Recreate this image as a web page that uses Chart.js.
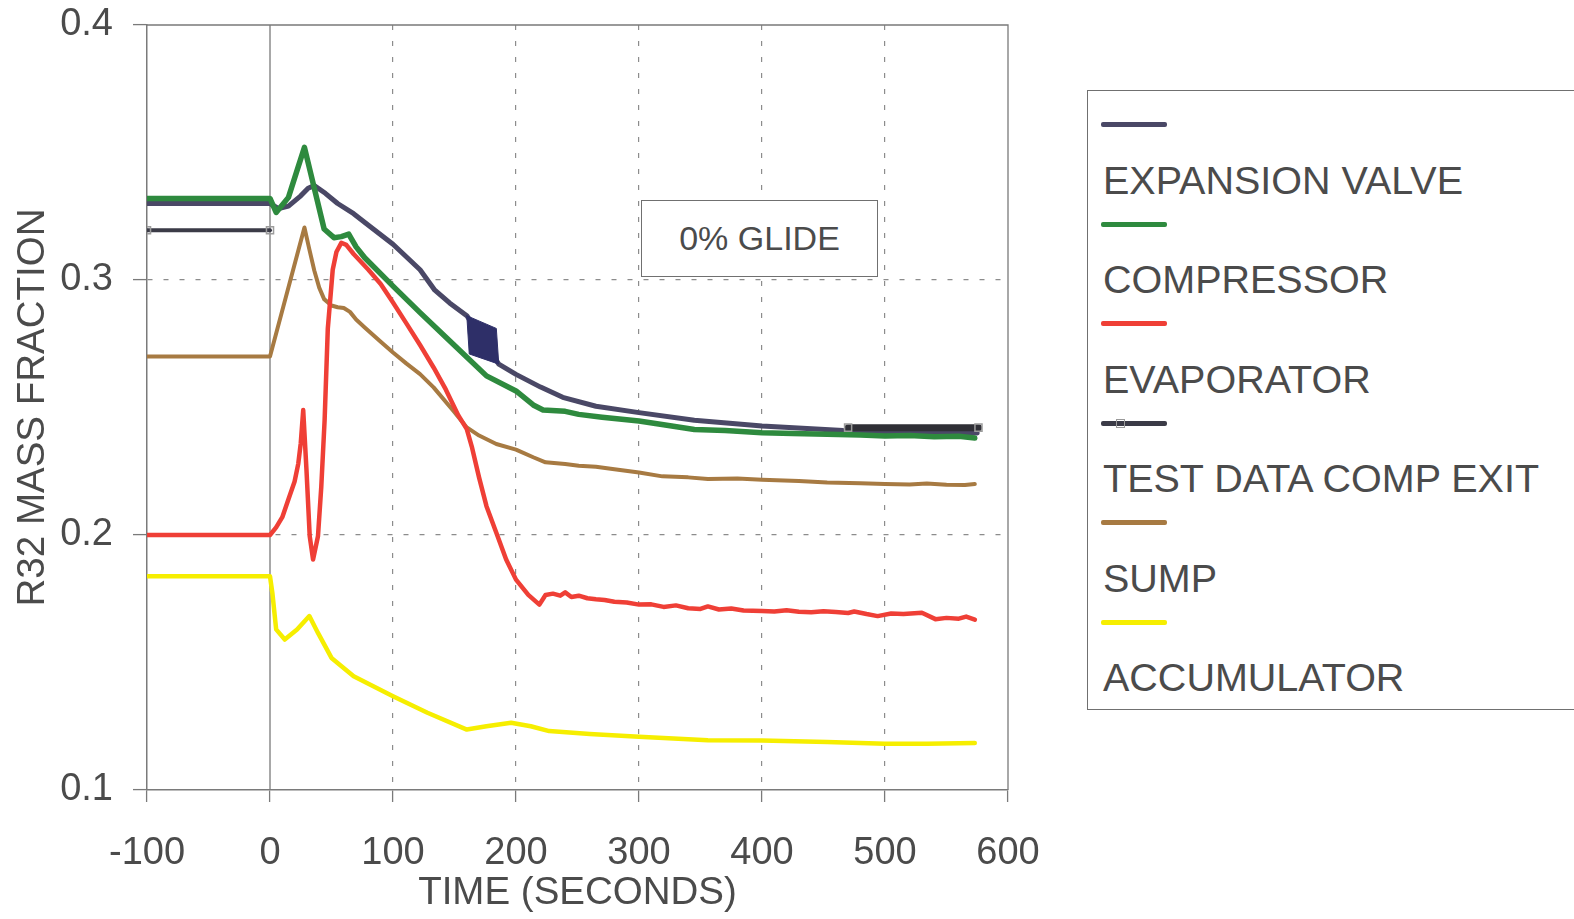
<!DOCTYPE html>
<html>
<head>
<meta charset="utf-8">
<title>R32 mass fraction, 0% glide</title>
<script src="https://cdn.jsdelivr.net/npm/chart.js@4.4.1/dist/chart.umd.min.js"></script>
<style>
  html, body { margin: 0; padding: 0; background: #fff; overflow: hidden; }
  #wrap { position: relative; width: 1574px; height: 919px; overflow: hidden; }
  #chart { position: absolute; left: 0; top: 0; }
  .note {
    position: absolute; left: 641px; top: 200px; width: 237px; height: 77px;
    box-sizing: border-box; border: 1.5px solid #707070; background: #fff;
    font: 34px "Liberation Sans", Arial, sans-serif; color: #4b4b4b;
    display: flex; align-items: center; justify-content: center;
  }
  .legend {
    position: absolute; left: 1087px; top: 90px; width: 540px; height: 620px;
    box-sizing: border-box; border: 1.5px solid #707070; background: #fff;
  }
  .swatch { position: absolute; left: 13px; width: 66px; height: 5px; border-radius: 2px; }
  .mark { position: absolute; left: 28px; width: 9px; height: 9px; border: 1.5px solid #9a9a9a; box-sizing: border-box; }
  .label {
    position: absolute; left: 15px; font: 39.5px "Liberation Sans", Arial, sans-serif;
    color: #4b4b4b; line-height: 40px; white-space: nowrap;
  }
</style>
</head>
<body>
<div id="wrap">
  <canvas id="chart" width="1574" height="919"></canvas>
  <div class="note">0% GLIDE</div>
  <div class="legend" id="legend"></div>
</div>
<script>
// values (time in seconds, R32 mass fraction)
const valveTime = [-100, 0, 7, 15, 25, 31, 36, 45, 55, 68, 80, 100, 122, 134, 146, 160, 186, 200, 220, 238, 265, 300, 345, 400, 466, 500, 540, 575];
const valveR32 = [0.330, 0.330, 0.328, 0.329, 0.333, 0.336, 0.337, 0.334, 0.330, 0.326, 0.3215, 0.314, 0.304, 0.296, 0.291, 0.286, 0.267, 0.263, 0.258, 0.254, 0.2505, 0.248, 0.245, 0.2427, 0.241, 0.2405, 0.2402, 0.240];

const compTime = [-100, 0, 5, 15, 22, 28, 33, 38, 44, 52, 58, 64, 70, 77, 100, 122, 149, 176, 200, 214, 222, 240, 251, 270, 300, 320, 345, 370, 400, 425, 453, 480, 500, 520, 540, 560, 573];
const compR32 = [0.332, 0.332, 0.3265, 0.3324, 0.343, 0.352, 0.342, 0.332, 0.320, 0.3166, 0.317, 0.318, 0.313, 0.3087, 0.2976, 0.2872, 0.2748, 0.2624, 0.2565, 0.251, 0.249, 0.2485, 0.2473, 0.2462, 0.2447, 0.2432, 0.2414, 0.241, 0.2401, 0.2398, 0.2395, 0.2392, 0.2388, 0.239, 0.2385, 0.2387, 0.238];

const evapTime = [-100, 0, 5, 10, 15, 20, 23, 25, 27, 29.6, 32.3, 35, 39, 41.7, 44.4, 47, 51, 54, 58, 62, 68, 80, 90, 100, 111, 122, 133, 143, 153, 160, 164, 170, 176, 184, 192, 200, 210, 219, 224, 230, 236, 240, 245, 251, 258, 265, 272, 280, 290, 300, 310, 320, 330, 340, 350, 356, 365, 375, 385, 400, 410, 420, 430, 440, 450, 460, 470, 475, 485, 494, 505, 515, 530, 541, 550, 560, 566, 573];
const evapR32 = [0.200, 0.200, 0.203, 0.207, 0.214, 0.221, 0.228, 0.236, 0.249, 0.226, 0.1995, 0.1904, 0.1995, 0.219, 0.245, 0.281, 0.304, 0.311, 0.3146, 0.3138, 0.3102, 0.304, 0.2984, 0.2912, 0.2829, 0.2745, 0.2657, 0.257, 0.247, 0.2415, 0.2348, 0.2225, 0.2113, 0.2009, 0.1904, 0.1825, 0.1765, 0.1727, 0.1765, 0.177, 0.1762, 0.1775, 0.1757, 0.1762, 0.1752, 0.1748, 0.1745, 0.1738, 0.1735, 0.1727, 0.1728, 0.1718, 0.1724, 0.1713, 0.171, 0.172, 0.1708, 0.1712, 0.1704, 0.1702, 0.17, 0.1705, 0.1699, 0.1697, 0.1701, 0.1698, 0.1694, 0.17, 0.169, 0.1682, 0.1692, 0.169, 0.1695, 0.167, 0.1675, 0.1672, 0.168, 0.1668];

const testStartTime = [-100, 0];
const testStartR32 = [0.3195, 0.3195];
const testEndTime = [470, 576];
const testEndR32 = [0.2421, 0.2421];
// dense block of test points near t = 170 s
const testBlockTime = [160, 184, 186, 162, 160];
const testBlockR32 = [0.286, 0.281, 0.267, 0.271, 0.286];

const sumpTime = [-100, 0, 28, 32, 36, 40, 44, 50, 55, 60, 65, 70, 77, 90, 100, 111, 122, 133, 149, 160, 170, 184, 200, 214, 224, 240, 251, 265, 280, 300, 319, 340, 356, 380, 400, 430, 453, 480, 500, 520, 534, 550, 565, 573];
const sumpR32 = [0.270, 0.270, 0.3206, 0.312, 0.3037, 0.297, 0.2925, 0.290, 0.2893, 0.289, 0.2875, 0.2845, 0.2814, 0.2758, 0.2716, 0.2672, 0.2631, 0.2579, 0.2487, 0.2422, 0.239, 0.2357, 0.2335, 0.2305, 0.2285, 0.2278, 0.2272, 0.2268, 0.2258, 0.2245, 0.223, 0.2226, 0.222, 0.2222, 0.2217, 0.2212, 0.2206, 0.2203, 0.22, 0.2198, 0.2202, 0.2197, 0.2196, 0.22];

const accumTime = [-100, 0, 2, 5, 12, 22, 32, 39, 50, 68, 100, 128, 160, 176, 196, 212, 227, 260, 300, 356, 400, 453, 500, 534, 573];
const accumR32 = [0.1838, 0.1838, 0.177, 0.163, 0.159, 0.1629, 0.1682, 0.1616, 0.1518, 0.1446, 0.1368, 0.1303, 0.1237, 0.125, 0.1264, 0.125, 0.1231, 0.122, 0.1209, 0.1195, 0.1194, 0.1188, 0.1181, 0.1181, 0.1184];

const xTicks = [-100, 0, 100, 200, 300, 400, 500, 600];
const yTicks = [0.1, 0.2, 0.3, 0.4];
const seriesNames = ['EXPANSION VALVE', 'COMPRESSOR', 'EVAPORATOR', 'TEST DATA COMP EXIT', 'SUMP', 'ACCUMULATOR'];

const FONT = '"Liberation Sans", Arial, Helvetica, sans-serif';
const TEXT = '#4b4b4b';
const AXIS = '#7a7a7a';
const GRID = '#8c8c8c';

const palette = {
  valve: '#4a4866',
  comp: '#2e8a3e',
  evap: '#ef3f36',
  test: '#3b3b47',
  sump: '#a77a42',
  accum: '#f6ee00',
  block: '#2e2f68',
};

const pts = (xs, ys) => xs.map((x, i) => ({ x, y: ys[i] }));

const lineSet = (data, color, width, extra = {}) => ({
  data,
  borderColor: color,
  backgroundColor: color,
  borderWidth: width,
  pointRadius: 0,
  tension: 0,
  fill: false,
  borderJoinStyle: 'round',
  borderCapStyle: 'round',
  ...extra,
});

const testMarkers = {
  pointStyle: 'rect',
  pointRadius: 5,
  pointBorderWidth: 1.5,
  pointBorderColor: '#9c9c9c',
  pointBackgroundColor: 'rgba(255,255,255,0)',
};

// solid frame: top edge, right edge and the t = 0 line
const framePlugin = {
  id: 'frame',
  beforeDatasetsDraw(chart) {
    const { ctx, chartArea: a, scales: { x } } = chart;
    const x0 = x.getPixelForValue(0);
    ctx.save();
    ctx.strokeStyle = AXIS;
    ctx.lineWidth = 1.3;
    ctx.beginPath();
    ctx.moveTo(a.left, a.top);
    ctx.lineTo(a.right, a.top);
    ctx.lineTo(a.right, a.bottom);
    ctx.moveTo(x0, a.top);
    ctx.lineTo(x0, a.bottom);
    ctx.stroke();
    ctx.restore();
  },
};

const datasets = [
  lineSet(pts(testBlockTime, testBlockR32), palette.block, 1, { fill: 'shape', backgroundColor: palette.block }),
  lineSet(pts(testStartTime, testStartR32), palette.test, 4, testMarkers),
  lineSet(pts(testEndTime, testEndR32), '#2f2f36', 7, testMarkers),
  lineSet(pts(compTime, compR32), palette.comp, 5.5),
  lineSet(pts(valveTime, valveR32), palette.valve, 5),
  lineSet(pts(evapTime, evapR32), palette.evap, 4.5),
  lineSet(pts(sumpTime, sumpR32), palette.sump, 4),
  lineSet(pts(accumTime, accumR32), palette.accum, 4.5),
];

const isInner = (v, list) => v > list[0] + 1e-9 && v < list[list.length - 1] - 1e-9;

new Chart(document.getElementById('chart').getContext('2d'), {
  type: 'line',
  data: { datasets },
  plugins: [framePlugin],
  options: {
    responsive: false,
    animation: false,
    events: [],
    layout: { padding: { left: 0, right: 566, top: 25, bottom: 0 } },
    plugins: { legend: { display: false }, tooltip: { enabled: false } },
    scales: {
      x: {
        type: 'linear',
        min: xTicks[0],
        max: xTicks[xTicks.length - 1],
        afterFit: (s) => { s.height = 129; s.paddingLeft = 0; s.paddingRight = 0; },
        afterBuildTicks: (s) => { s.ticks = xTicks.map((value) => ({ value })); },
        ticks: { color: TEXT, font: { family: FONT, size: 38 }, padding: 29, maxRotation: 0, autoSkip: false },
        grid: {
          color: (c) => (c.tick && c.tick.value !== 0 && isInner(c.tick.value, xTicks) ? GRID : 'rgba(0,0,0,0)'),
          tickColor: AXIS,
          lineWidth: 1.2,
          tickWidth: 1.3,
          tickLength: 12,
          tickBorderDash: [],
        },
        border: { color: AXIS, width: 1.5, dash: [5, 11] },
        title: {
          display: true,
          text: 'TIME (SECONDS)',
          color: TEXT,
          font: { family: FONT, size: 38.5 },
          padding: { top: 0, bottom: 3 },
        },
      },
      y: {
        type: 'linear',
        min: yTicks[0],
        max: yTicks[yTicks.length - 1],
        afterFit: (s) => { s.width = 147; s.paddingTop = 0; s.paddingBottom = 0; },
        afterBuildTicks: (s) => { s.ticks = yTicks.map((value) => ({ value })); },
        ticks: {
          color: TEXT,
          font: { family: FONT, size: 38 },
          padding: 20,
          callback: (v) => Number(v).toFixed(1),
        },
        grid: {
          color: (c) => (c.tick && isInner(c.tick.value, yTicks) ? GRID : 'rgba(0,0,0,0)'),
          tickColor: AXIS,
          lineWidth: 1.2,
          tickWidth: 1.3,
          tickLength: 14,
          tickBorderDash: [],
        },
        border: { color: AXIS, width: 1.5, dash: [5, 11] },
        title: {
          display: true,
          text: 'R32 MASS FRACTION',
          color: TEXT,
          font: { family: FONT, size: 38.5 },
          padding: { top: 10, bottom: 0 },
        },
      },
    },
  },
});

// legend: swatch line above each label
const legendColors = [palette.valve, palette.comp, palette.evap, palette.test, palette.sump, palette.accum];
const legendEl = document.getElementById('legend');
seriesNames.forEach((name, i) => {
  const lineY = 31 + i * 99.6;
  const sw = document.createElement('div');
  sw.className = 'swatch';
  sw.style.top = `${lineY}px`;
  sw.style.background = legendColors[i];
  legendEl.appendChild(sw);
  if (i === 3) {
    const mk = document.createElement('div');
    mk.className = 'mark';
    mk.style.top = `${lineY - 2}px`;
    legendEl.appendChild(mk);
  }
  const lb = document.createElement('div');
  lb.className = 'label';
  lb.style.top = `${69 + i * 99.4}px`;
  lb.textContent = name;
  legendEl.appendChild(lb);
});
</script>
</body>
</html>
